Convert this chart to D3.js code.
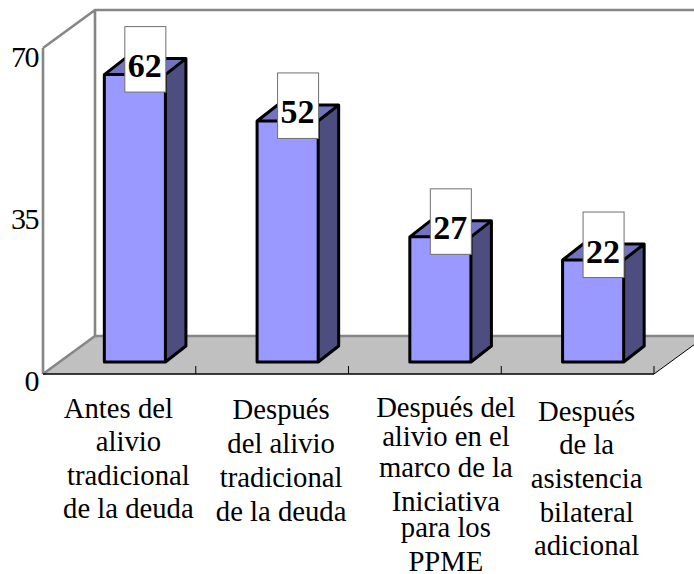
<!DOCTYPE html>
<html>
<head>
<meta charset="utf-8">
<script src="https://cdn.jsdelivr.net/npm/d3@7"></script>
<style>
  html, body { margin: 0; padding: 0; background: #fff; }
  text { font-family: "Liberation Serif", serif; fill: #000; }
</style>
</head>
<body>
<div id="grafico"></div>
<script>
const categories = [
    "Antes del alivio tradicional de la deuda",
    "Después del alivio tradicional de la deuda",
    "Después del alivio en el marco de la Iniciativa para los PPME",
    "Después de la asistencia bilateral adicional"
];
const categoryLines = [
    ["Antes del", "alivio", "tradicional", "de la deuda"],
    ["Después", "del alivio", "tradicional", "de la deuda"],
    ["Después del", "alivio en el", "marco de la", "Iniciativa", "para los", "PPME"],
    ["Después", "de la", "asistencia", "bilateral", "adicional"]
];
const values = [62, 52, 27, 22];
const yTicks = [0, 35, 70];

const width = 694;
const height = 574;

// plano frontal del grafico y desplazamiento de la profundidad
const floorY = 374;
const topY = 48;
const left = 43;
const right = 654;
const depth = { x: 52, y: -38 };
const barDepth = { x: 20.5, y: -16 };
const barOffset = { x: 15.5, y: -12 };

const x = d3.scaleBand()
    .domain(categories)
    .range([left, right])
    .paddingInner(0.6)
    .paddingOuter(0.3);

const y = d3.scaleLinear()
    .domain([0, 70])
    .range([floorY, topY + 1.5]);

const svg = d3.select('#grafico')
    .append('svg')
    .attr('width', width)
    .attr('height', height)
    .style('display', 'block');

const poly = pts => pts.map(p => p.join(',')).join(' ');

// suelo
svg.append('polygon')
    .attr('points', poly([
        [left, floorY], [right, floorY],
        [right + depth.x, floorY + depth.y], [left + depth.x, floorY + depth.y]
    ]))
    .attr('fill', '#c0c0c0');

// paredes
svg.append('path')
    .attr('d', `M${left},${topY} L${left + depth.x},${topY + depth.y} L${width + 2},${topY + depth.y}
        M${left + depth.x},${topY + depth.y} V${floorY + depth.y} H${width + 2}
        M${left},${floorY} V${topY} M${left},${floorY} L${left + depth.x},${floorY + depth.y}`)
    .attr('fill', 'none')
    .attr('stroke', '#868686')
    .attr('stroke-width', 2.6);

// eje x del suelo
const axisX = svg.append('g').attr('stroke', '#000').attr('fill', 'none');
axisX.append('path')
    .attr('d', `M${left},${floorY} H${right}`)
    .attr('stroke-width', 1.6);
axisX.append('path')
    .attr('d', `M${right},${floorY} L${right + depth.x},${floorY + depth.y}`)
    .attr('stroke-width', 1);
axisX.selectAll('line')
    .data(categories.slice(1).concat(null))
    .enter()
    .append('line')
    .attr('x1', d => d ? x(d) - x.step() * 0.3 : right)
    .attr('x2', d => d ? x(d) - x.step() * 0.3 : right)
    .attr('y1', floorY)
    .attr('y2', floorY - 8);

// barras
const bars = svg.selectAll('g.bar')
    .data(values)
    .enter()
    .append('g')
    .attr('class', 'bar')
    .attr('transform', (d, i) => `translate(${x(categories[i]) + barOffset.x},${barOffset.y})`);

const bw = x.bandwidth();

bars.append('polygon')
    .attr('points', d => poly([
        [bw, y(d)], [bw + barDepth.x, y(d) + barDepth.y],
        [bw + barDepth.x, floorY + barDepth.y], [bw, floorY]
    ]))
    .attr('fill', '#4d4d80');

bars.append('polygon')
    .attr('points', d => poly([
        [0, y(d)], [barDepth.x, y(d) + barDepth.y],
        [bw + barDepth.x, y(d) + barDepth.y], [bw, y(d)]
    ]))
    .attr('fill', '#7373bf');

bars.append('rect')
    .attr('x', 0)
    .attr('y', d => y(d))
    .attr('width', bw)
    .attr('height', d => floorY - y(d))
    .attr('fill', '#9999ff');

bars.selectAll('.edge')
    .data(d => [d])
    .enter()
    .append('path')
    .attr('class', 'edge')
    .attr('d', d => `M0,${y(d)} H${bw} V${floorY} H0 Z
        M0,${y(d)} L${barDepth.x},${y(d) + barDepth.y} H${bw + barDepth.x} L${bw},${y(d)}
        M${bw + barDepth.x},${y(d) + barDepth.y} V${floorY + barDepth.y} L${bw},${floorY}`)
    .attr('fill', 'none')
    .attr('stroke', '#000')
    .attr('stroke-width', 3)
    .attr('stroke-linejoin', 'round');

// etiquetas de valor
bars.append('rect')
    .attr('x', 20.5)
    .attr('y', d => y(d) - 48)
    .attr('width', 41)
    .attr('height', 65.5)
    .attr('fill', '#fff')
    .attr('stroke', '#707070')
    .attr('stroke-width', 1);

bars.append('text')
    .attr('x', 40.5)
    .attr('y', d => y(d) + 2.5)
    .attr('text-anchor', 'middle')
    .attr('font-weight', 'bold')
    .attr('font-size', 34)
    .text(d => d);

// eje y
svg.selectAll('text.ytick')
    .data(yTicks)
    .enter()
    .append('text')
    .attr('class', 'ytick')
    .attr('x', 38)
    .attr('y', d => y(d) + 17)
    .attr('text-anchor', 'end')
    .attr('font-size', 30)
    .attr('letter-spacing', -1.5)
    .text(d => d);

// categorias, cada columna con su interlineado como en el original
const labelShift = [9, 9, 21, 9];
const lineY = [
    [418, 451, 485, 518],
    [419, 453, 487, 521],
    [417, 446, 477, 511, 537, 571],
    [421, 454, 488, 522, 555]
];
const labels = svg.selectAll('text.cat')
    .data(categoryLines)
    .enter()
    .append('text')
    .attr('class', 'cat')
    .attr('font-size', 28.7)
    .attr('text-anchor', 'middle');

labels.selectAll('tspan')
    .data((d, i) => d.map(t => ({ t, i })))
    .enter()
    .append('tspan')
    .attr('x', d => x(categories[d.i]) + bw / 2 + labelShift[d.i] - (d.t === "Antes del" ? 10 : 0))
    .attr('y', (d, j) => lineY[d.i][j])
    .text(d => d.t);
</script>
</body>
</html>
